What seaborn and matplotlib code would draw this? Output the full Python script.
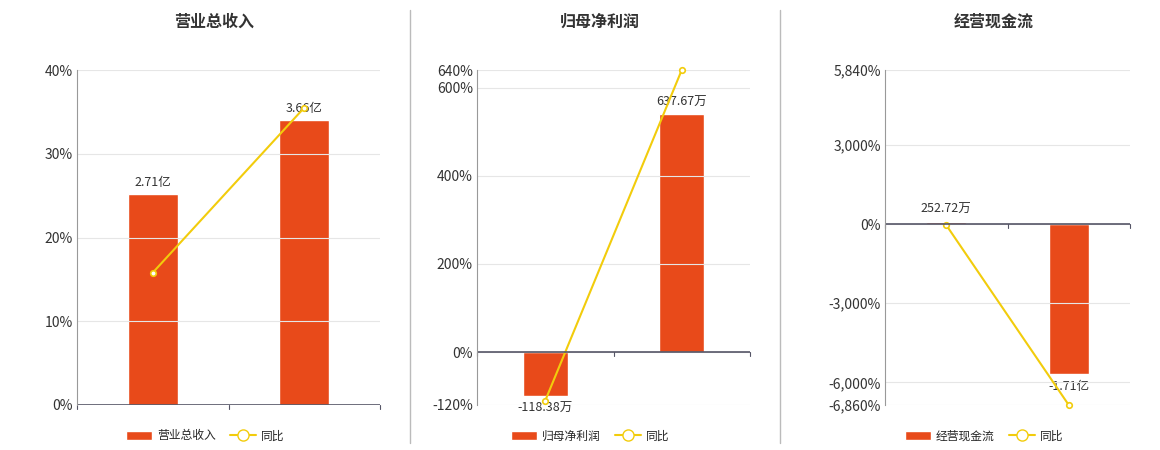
import matplotlib
matplotlib.use("Agg")
import matplotlib.pyplot as plt
import seaborn as sns
import pandas as pd
from matplotlib.patches import Patch
from matplotlib.lines import Line2D

sns.set_theme(style="white")
plt.rcParams['font.family'] = ['Noto Sans CJK SC', 'DejaVu Sans']

categories = ["2025年一季报", "2026年一季报"]
titles = ["营业总收入", "归母净利润", "经营现金流"]
bar_values = [[2.71, 3.66], [-118.38, 637.67], [252.72, -17100.0]]
bar_labels = [["2.71亿", "3.66亿"], ["-118.38万", "637.67万"], ["252.72万", "-1.71亿"]]
yoy_values = [[15.8, 35.5], [-110.0, 640.0], [-40.0, -6860.0]]
pct_ticks = [[0, 10, 20, 30, 40], [-120, 0, 200, 400, 600, 640], [-6860, -6000, -3000, 0, 3000, 5840]]
pct_lims = [(0, 40), (-120, 640), (-6860, 5840)]
# pct position reached by the largest |bar|
bar_ref_pct = [34.0, 540.0, -5700.0]

BAR = "#E84A1A"
LINE = "#F2CC0C"

fig = plt.figure(figsize=(11.6, 4.5), dpi=100)
rects = [(77, 303), (477, 273), (885, 245)]
for i in range(3):
    x0, w = rects[i]
    ax = fig.add_axes([x0 / 1160, 45 / 450, w / 1160, 335 / 450])
    ax2 = ax.twinx()
    lo, hi = pct_lims[i]
    vals = bar_values[i]
    ref = max(vals, key=abs)
    scale = ref / bar_ref_pct[i]
    ax2.set_ylim(lo * scale, hi * scale)
    df = pd.DataFrame({"cat": categories, "v": vals})
    sns.barplot(data=df, x="cat", y="v", ax=ax2, color=BAR, width=0.33, saturation=1)
    ax2.set_yticks([]); ax2.set_ylabel(""); ax2.set_xlabel("")
    for s in ax2.spines.values():
        s.set_visible(False)
    for j, v in enumerate(vals):
        off = 4 if v >= 0 else -4
        ax2.annotate(bar_labels[i][j], (j, v), xytext=(0, off), textcoords="offset points",
                     ha="center", va="bottom" if v >= 0 else "top", fontsize=9, color="#333333")
    ax.set_zorder(ax2.zorder + 1)
    ax.patch.set_visible(False)
    ld = pd.DataFrame({"x": [0, 1], "y": yoy_values[i]})
    ax.plot(ld["x"], ld["y"], color=LINE, lw=1.5, marker="o", ms=4,
            mfc="white", mec=LINE, mew=1.2, clip_on=False)
    ax.set_ylim(lo, hi)
    ax.set_xlim(-0.5, 1.5)
    ax.set_yticks(pct_ticks[i])
    ax.set_yticklabels([f"{t:,}%" for t in pct_ticks[i]], fontsize=10, color="#333333")
    ax.set_xticks([0, 1])
    ax.set_xticklabels(categories, fontsize=10, color="#333333")
    ax2.set_xticks([0, 1]); ax2.set_xticklabels([])
    ax.tick_params(axis="x", length=0, pad=2)
    ax.tick_params(axis="y", length=0, pad=3)
    for t in pct_ticks[i]:
        ax.axhline(t, color="#E6E6E6", lw=0.8, zorder=0)
    ax.axhline(0, color="#555566", lw=1.2)
    for xt in [-0.5, 0.5, 1.5]:
        ax.plot([xt, xt], [0, -(hi - lo) * 0.012], color="#555566", lw=0.8, clip_on=False)
    for k in ["top", "right", "bottom"]:
        ax.spines[k].set_visible(False)
    ax.spines["left"].set_color("#999999")
    ax.spines["left"].set_linewidth(0.8)
    cx = (x0 + w / 2) / 1160
    fig.text(cx - 0.012, 1 - 22 / 450, titles[i], ha="center", va="center",
             fontsize=11.5, fontweight="bold", color="#333333")
    handles = [Patch(facecolor=BAR, label=titles[i]),
               Line2D([], [], color=LINE, marker="o", mfc="white", mec=LINE, ms=8, lw=1.5, label="同比")]
    fig.legend(handles=handles, loc="center", bbox_to_anchor=(cx - 0.02, 1 - 436 / 450), ncol=2,
               frameon=False, fontsize=8.5, handlelength=2.2, columnspacing=1.2, handletextpad=0.4)

for xs in [410, 780]:
    fig.add_artist(Line2D([xs / 1160, xs / 1160], [7 / 450, 440 / 450], color="#BBBBBB", lw=1))

fig.savefig("out.png", dpi=100)
